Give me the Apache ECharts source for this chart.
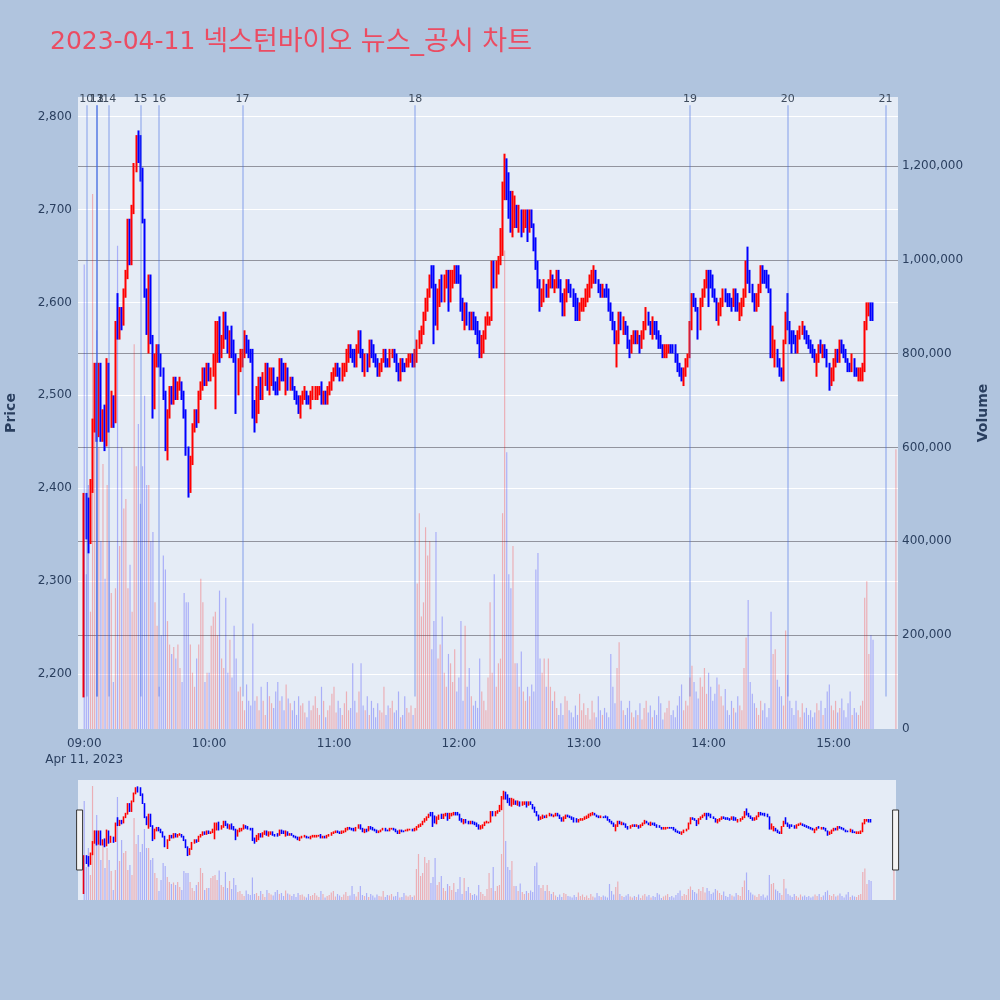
<!DOCTYPE html>
<html><head><meta charset="utf-8">
<script src="https://cdn.jsdelivr.net/npm/echarts@6/dist/echarts.min.js"></script>
<style>html,body{margin:0;padding:0;background:#B0C4DE;}#chart{width:1000px;height:1000px;}</style>
</head><body><div id="chart"></div>
<script>
// Minute bars, one entry per minute starting 09:00 (through 15:19)
const firstBar = '09:00';
const openP = [
2180,2395,2360,2345,2400,2470,2525,2460,2530,2455, 2480,2445,2535,2465,2500,2470,2600,2565,2590,2575,
2610,2630,2685,2645,2700,2745,2780,2770,2740,2690, 2610,2570,2625,2560,2490,2540,2550,2535,2525,2500,
2445,2480,2505,2495,2515,2500,2510,2515,2500,2480, 2440,2400,2430,2465,2480,2475,2500,2510,2525,2515,
2530,2520,2525,2540,2540,2570,2540,2555,2585,2565, 2550,2560,2545,2540,2505,2530,2535,2545,2565,2550,
2545,2545,2490,2475,2495,2515,2500,2515,2530,2510, 2520,2525,2510,2515,2505,2540,2530,2515,2530,2510,
2515,2510,2500,2495,2485,2495,2500,2505,2495,2490, 2500,2500,2495,2505,2510,2495,2500,2495,2505,2510,
2520,2525,2535,2530,2520,2525,2530,2540,2550,2545, 2545,2535,2550,2565,2545,2530,2540,2530,2555,2550,
2540,2535,2525,2530,2535,2545,2540,2535,2545,2550, 2540,2530,2520,2535,2535,2530,2535,2540,2545,2535,
2540,2555,2560,2570,2585,2595,2610,2630,2635,2605, 2580,2605,2620,2605,2625,2635,2600,2625,2630,2640,
2635,2625,2600,2575,2590,2580,2575,2585,2580,2575, 2565,2545,2550,2565,2575,2580,2585,2640,2620,2635,
2645,2670,2715,2755,2735,2715,2690,2690,2705,2690, 2700,2680,2690,2695,2680,2700,2685,2665,2640,2620,
2600,2605,2620,2610,2620,2630,2615,2620,2630,2620, 2605,2590,2605,2620,2615,2610,2600,2595,2585,2590,
2595,2600,2605,2610,2620,2630,2635,2625,2615,2605, 2615,2620,2615,2595,2585,2575,2560,2560,2580,2570,
2580,2570,2555,2550,2560,2565,2560,2565,2555,2565, 2575,2590,2580,2565,2580,2575,2565,2560,2555,2545,
2545,2545,2555,2555,2550,2540,2530,2525,2515,2525, 2535,2540,2575,2605,2600,2595,2575,2600,2610,2620,
2630,2625,2620,2610,2605,2580,2590,2600,2610,2605, 2605,2600,2595,2610,2600,2590,2590,2600,2610,2645,
2630,2615,2605,2595,2600,2615,2635,2630,2630,2625, 2615,2545,2535,2550,2535,2525,2520,2560,2590,2575,
2565,2565,2560,2550,2565,2570,2575,2565,2560,2555, 2550,2545,2530,2540,2555,2545,2550,2545,2535,2515,
2520,2535,2545,2540,2555,2550,2545,2540,2535,2525, 2540,2530,2520,2520,2520,2530,2575,2590,2600,2600
];
const highP = [
2395,2395,2390,2410,2475,2535,2535,2535,2535,2485, 2490,2540,2535,2505,2500,2580,2610,2595,2595,2615,
2635,2690,2690,2705,2750,2780,2785,2780,2745,2690, 2615,2630,2630,2565,2545,2555,2555,2545,2530,2505,
2485,2510,2510,2520,2520,2515,2520,2515,2505,2485, 2445,2435,2470,2485,2485,2505,2515,2530,2530,2535,
2535,2530,2545,2580,2580,2585,2565,2590,2590,2575, 2570,2575,2560,2545,2540,2550,2550,2570,2565,2560,
2550,2550,2495,2510,2520,2520,2525,2535,2535,2530, 2530,2530,2515,2520,2540,2540,2535,2535,2530,2520,
2520,2510,2505,2500,2500,2505,2510,2505,2500,2505, 2510,2510,2510,2510,2515,2505,2505,2510,2515,2525,
2530,2535,2535,2530,2535,2535,2550,2555,2555,2550, 2550,2555,2570,2570,2550,2545,2545,2560,2560,2555,
2545,2540,2535,2540,2550,2550,2540,2550,2550,2550, 2545,2535,2540,2540,2535,2540,2545,2545,2545,2550,
2560,2570,2575,2590,2605,2615,2630,2640,2640,2620, 2615,2625,2630,2630,2635,2635,2635,2635,2640,2640,
2640,2630,2605,2600,2600,2590,2590,2590,2585,2580, 2570,2565,2570,2585,2590,2585,2645,2645,2645,2650,
2680,2730,2760,2755,2740,2720,2720,2715,2705,2705, 2700,2700,2700,2700,2700,2700,2685,2670,2645,2625,
2615,2625,2620,2625,2635,2630,2625,2635,2635,2625, 2610,2615,2625,2625,2620,2615,2610,2605,2600,2605,
2605,2615,2620,2630,2635,2640,2635,2625,2620,2620, 2615,2620,2615,2600,2590,2580,2570,2590,2590,2585,
2580,2575,2560,2565,2570,2570,2570,2565,2570,2580, 2595,2590,2580,2585,2580,2580,2570,2565,2555,2555,
2555,2555,2555,2555,2555,2545,2535,2530,2530,2540, 2545,2580,2610,2610,2605,2595,2605,2615,2625,2635,
2635,2635,2630,2615,2605,2600,2605,2615,2615,2610, 2610,2605,2615,2615,2610,2600,2605,2615,2645,2660,
2635,2620,2610,2610,2620,2640,2640,2635,2635,2630, 2615,2575,2560,2550,2540,2530,2560,2590,2610,2580,
2570,2570,2565,2570,2575,2580,2575,2570,2565,2560, 2555,2550,2545,2555,2560,2555,2555,2550,2535,2530,
2540,2550,2550,2560,2560,2555,2550,2540,2535,2545, 2540,2530,2530,2530,2535,2580,2600,2600,2600,2600
];
const lowP = [
2175,2345,2330,2340,2395,2460,2450,2455,2450,2450, 2440,2445,2460,2465,2465,2470,2560,2560,2570,2575,
2605,2625,2640,2640,2695,2740,2750,2730,2685,2605, 2565,2545,2555,2475,2485,2530,2530,2520,2495,2440,
2430,2475,2490,2490,2495,2495,2505,2495,2475,2435, 2390,2395,2425,2460,2465,2470,2495,2505,2510,2510,
2515,2515,2520,2485,2535,2535,2540,2550,2560,2545, 2540,2540,2535,2480,2500,2525,2530,2540,2545,2540,
2535,2475,2460,2470,2480,2495,2495,2510,2505,2500, 2510,2505,2500,2500,2505,2515,2515,2500,2505,2505,
2505,2495,2490,2480,2475,2490,2495,2490,2490,2485, 2495,2495,2495,2500,2490,2490,2490,2490,2500,2505,
2515,2520,2520,2515,2515,2520,2525,2535,2540,2535, 2530,2530,2545,2540,2525,2520,2525,2530,2540,2535,
2530,2520,2520,2525,2535,2530,2530,2530,2540,2535, 2525,2515,2515,2525,2525,2530,2530,2535,2530,2530,
2535,2550,2555,2565,2580,2590,2605,2615,2555,2575, 2570,2595,2600,2600,2615,2590,2600,2615,2620,2620,
2620,2590,2580,2570,2575,2570,2570,2570,2565,2555, 2540,2540,2545,2560,2575,2575,2580,2615,2615,2630,
2640,2650,2710,2710,2690,2675,2670,2680,2680,2675, 2670,2675,2680,2665,2675,2680,2655,2635,2615,2590,
2595,2600,2605,2605,2615,2615,2610,2615,2615,2600, 2585,2585,2600,2610,2605,2595,2580,2580,2580,2590,
2590,2595,2600,2605,2615,2620,2620,2610,2605,2605, 2605,2605,2590,2580,2570,2555,2530,2555,2570,2565,
2565,2550,2540,2545,2555,2555,2555,2545,2550,2560, 2570,2575,2565,2560,2565,2560,2550,2550,2540,2540,
2540,2545,2545,2545,2535,2525,2520,2515,2510,2520, 2530,2540,2570,2595,2590,2560,2570,2595,2605,2615,
2595,2615,2605,2600,2580,2575,2585,2595,2600,2595, 2595,2590,2595,2590,2590,2580,2585,2595,2605,2620,
2610,2600,2590,2590,2595,2610,2620,2620,2615,2610, 2540,2540,2530,2530,2520,2515,2515,2555,2570,2555,
2545,2555,2545,2545,2560,2565,2560,2555,2550,2545, 2540,2535,2520,2535,2545,2540,2540,2530,2505,2510,
2515,2530,2535,2535,2545,2540,2535,2525,2525,2525, 2520,2520,2515,2515,2515,2525,2570,2585,2580,2580
];
const closeP = [
2395,2360,2345,2400,2470,2525,2460,2530,2455,2480, 2445,2535,2465,2500,2470,2575,2565,2590,2575,2610,
2630,2685,2645,2700,2745,2775,2755,2740,2690,2610, 2575,2625,2560,2490,2540,2550,2535,2525,2500,2445,
2480,2505,2495,2515,2500,2510,2515,2500,2480,2440, 2395,2430,2465,2480,2475,2500,2510,2525,2515,2530,
2520,2525,2540,2575,2570,2540,2560,2585,2565,2550, 2560,2545,2540,2505,2530,2545,2545,2565,2550,2545,
2540,2490,2470,2500,2515,2500,2520,2530,2510,2525, 2525,2510,2505,2505,2535,2520,2520,2530,2510,2515,
2510,2500,2495,2485,2495,2500,2505,2495,2490,2500, 2505,2505,2505,2510,2495,2500,2495,2505,2510,2520,
2525,2530,2525,2520,2530,2535,2545,2550,2545,2540, 2535,2550,2565,2545,2530,2540,2530,2555,2545,2540,
2535,2525,2530,2535,2545,2535,2535,2545,2550,2540, 2530,2520,2535,2530,2530,2540,2540,2545,2535,2545,
2555,2565,2570,2585,2600,2610,2625,2620,2605,2585, 2610,2620,2605,2625,2630,2600,2630,2630,2635,2625,
2625,2600,2590,2595,2580,2575,2585,2575,2570,2560, 2545,2560,2565,2580,2585,2585,2640,2620,2640,2645,
2675,2725,2755,2720,2700,2690,2710,2705,2690,2700, 2675,2695,2695,2675,2695,2685,2665,2640,2620,2600,
2610,2620,2610,2620,2630,2620,2625,2630,2620,2605, 2590,2610,2620,2615,2610,2600,2590,2585,2595,2600,
2605,2610,2615,2625,2630,2635,2625,2615,2610,2615, 2610,2615,2595,2585,2575,2560,2565,2585,2575,2580,
2570,2555,2545,2560,2565,2560,2565,2550,2565,2575, 2590,2580,2570,2580,2570,2565,2555,2555,2545,2550,
2550,2550,2550,2550,2540,2530,2525,2520,2525,2535, 2540,2575,2605,2600,2595,2575,2600,2610,2620,2625,
2605,2620,2610,2605,2590,2595,2600,2610,2605,2600, 2600,2595,2610,2595,2595,2595,2600,2610,2640,2630,
2615,2605,2595,2605,2615,2635,2625,2625,2625,2615, 2550,2570,2555,2535,2525,2520,2555,2585,2575,2560,
2555,2560,2550,2565,2570,2575,2565,2560,2555,2550, 2545,2540,2545,2550,2550,2550,2545,2535,2515,2525,
2535,2545,2540,2555,2550,2545,2540,2530,2530,2540, 2525,2525,2525,2525,2530,2575,2600,2600,2590,2590
];
// volume in thousands of shares
const volumeK = [
990,330,520,250,1140,700,850,600,400,565, 320,520,400,290,100,300,1030,390,600,470,
490,300,350,250,820,560,650,480,560,710, 520,520,400,420,270,220,90,200,370,340,
230,180,160,175,150,180,130,100,290,270, 270,180,120,90,150,180,320,270,100,120,
120,220,240,250,200,295,150,130,280,120, 190,110,220,150,80,90,60,40,95,60,
50,225,60,70,40,90,60,30,100,70, 55,45,80,100,60,70,40,95,65,55,
40,60,30,70,50,55,35,25,60,40, 50,70,45,30,90,60,25,40,50,75,
90,35,60,45,30,55,80,40,45,140, 60,35,80,140,50,40,70,30,60,45,
25,55,40,35,90,30,50,45,60,35, 40,80,25,30,70,45,35,50,30,45,
310,460,240,270,430,370,400,170,230,420, 150,180,240,120,90,160,140,100,170,80,
110,230,60,220,90,130,70,50,60,45, 150,80,60,40,110,270,120,330,90,140,
150,460,1020,590,330,300,390,140,140,90, 165,80,60,90,70,95,80,340,375,150,
120,150,90,150,90,60,80,45,30,55, 30,70,60,40,35,25,50,30,75,40,
55,30,45,20,60,35,25,70,40,30, 45,35,25,160,90,55,130,185,60,40,
30,45,60,35,25,40,30,55,20,45, 60,35,50,25,40,30,70,55,20,35,
45,60,30,40,25,50,70,95,40,60, 50,110,135,100,80,65,110,90,130,75,
120,90,60,75,110,95,70,50,85,40, 30,60,45,35,70,50,40,130,195,275,
100,75,55,45,30,60,40,55,25,45, 250,160,170,105,90,70,50,210,115,60,
45,30,60,40,25,55,35,45,30,40, 25,35,55,40,60,30,45,80,95,50,
40,60,35,45,65,40,25,55,80,30, 45,35,30,50,60,280,315,160,200,190
];
// volume bars drawn in the "down" colour although the candle closed up
const volumeDownAt = ['09:00'];
// closing auction print
const closeTime = '15:30';
const closeAuction = {price: 2605, volumeK: 596};
// news / disclosure markers (13 drawn first so 12 sits on top, as in the reference)
const newsLabels = ['10','13','11','12','14','15','16','17','18','19','20','21'];
const newsTimes  = ['09:01','09:06','09:06','09:06','09:12','09:27','09:36','10:16','11:39','13:51','14:38','15:25'];
const newsPriceSpan = [2176, 2812];
const axisStart = '08:57', axisEnd = '15:31';
const priceRange = [2141, 2821];
const volumeMax = 1347000;
const sliderVolumeMax = 1200000;
const titleDate = '2023-04-11 ';
const titleText = '넥스턴바이오 뉴스_공시 차트';

function toMin(s){const p=s.split(':');return (+p[0])*60+(+p[1]);}
function toStr(m){const h=Math.floor(m/60),mm=m%60;return (h<10?'0':'')+h+':'+(mm<10?'0':'')+mm;}
const cats=[];
for(let t=toMin(axisStart);t<=toMin(axisEnd);t++) cats.push(toStr(t));
const base=cats.indexOf(firstBar);
const candle=cats.map(()=>'-');
const vols=cats.map(()=>'-');
const UP='#ff0000', DN='#0000ff';
const UPV='rgba(255,0,0,0.26)', DNV='rgba(0,0,255,0.26)';
for(let i=0;i<openP.length;i++){
  candle[base+i]=[openP[i],closeP[i],lowP[i],highP[i]];
  const down = closeP[i]<openP[i] || volumeDownAt.indexOf(cats[base+i])>=0;
  vols[base+i]={value:volumeK[i]*1000,itemStyle:{color:down?DNV:UPV}};
}
const ci=cats.indexOf(closeTime);
candle[ci]=[closeAuction.price,closeAuction.price,closeAuction.price,closeAuction.price];
vols[ci]={value:closeAuction.volumeK*1000,itemStyle:{color:UPV}};

const fmt=v=>String(v).replace(/\B(?=(\d{3})+(?!\d))/g,',');
const FONT="'DejaVu Sans','Noto Sans CJK KR',sans-serif";
const TXT='#2a3f5f';

const chart=echarts.init(document.getElementById('chart'),null,{renderer:'canvas'});
chart.setOption({
  animation:false,
  backgroundColor:'#B0C4DE',
  textStyle:{fontFamily:FONT},
  title:{text:'{d|'+titleDate+'}{k|'+titleText+'}',left:45,top:24,
    textStyle:{fontWeight:'normal',fontSize:25,color:'#EB4C62',fontFamily:FONT,rich:{
      d:{fontSize:25,fontWeight:'normal',color:'#EB4C62',fontFamily:FONT},
      k:{fontSize:27,fontWeight:'normal',color:'#EB4C62',fontFamily:FONT}
    }}},
  grid:[
    {left:78,right:102,top:97,bottom:271,show:true,backgroundColor:'#E5ECF6',borderWidth:0,containLabel:false,outerBoundsMode:'none'},
    {left:78,right:104,top:780,height:120,show:true,backgroundColor:'#E5ECF6',borderWidth:0,containLabel:false,outerBoundsMode:'none'}
  ],
  xAxis:[
    {type:'category',gridIndex:0,data:cats,boundaryGap:false,
     axisLine:{show:false},axisTick:{show:false},splitLine:{show:false},
     axisLabel:{interval:(idx,val)=>val.endsWith(':00'),
       formatter:v=>v==='09:00'?'09:00\nApr 11, 2023':v,
       color:TXT,fontSize:12,margin:7,lineHeight:16,fontFamily:FONT}},
    {type:'category',gridIndex:1,data:cats,boundaryGap:false,show:false}
  ],
  yAxis:[
    {type:'value',gridIndex:0,position:'left',min:priceRange[0],max:priceRange[1],splitNumber:7,
     axisLine:{show:false},axisTick:{show:false},
     axisLabel:{formatter:fmt,color:TXT,fontSize:12,margin:6,showMinLabel:false,showMaxLabel:false,fontFamily:FONT},
     splitLine:{show:true,showMinLine:false,showMaxLine:false,lineStyle:{color:'#ffffff',width:1}},
     name:'Price',nameLocation:'middle',nameGap:60,
     nameTextStyle:{fontSize:14,fontWeight:'bold',color:TXT,fontFamily:FONT}},
    {type:'value',gridIndex:0,position:'right',min:0,max:volumeMax,splitNumber:7,
     axisLine:{show:false},axisTick:{show:false},
     axisLabel:{formatter:fmt,color:TXT,fontSize:12,margin:4,showMaxLabel:false,fontFamily:FONT},
     splitLine:{show:true,showMinLine:false,showMaxLine:false,lineStyle:{color:'rgba(90,90,100,0.6)',width:1}},
     name:'Volume',nameLocation:'middle',nameGap:78,
     nameTextStyle:{fontSize:14,fontWeight:'bold',color:TXT,fontFamily:FONT}},
    {type:'value',gridIndex:1,min:priceRange[0],max:priceRange[1],show:false,splitLine:{show:false}},
    {type:'value',gridIndex:1,min:0,max:sliderVolumeMax,show:false,splitLine:{show:false}}
  ],
  dataZoom:[{
    type:'slider',xAxisIndex:[0,1],filterMode:'none',start:0,end:100,
    left:78,right:104,top:780,height:120,
    showDetail:false,showDataShadow:false,brushSelect:false,
    backgroundColor:'rgba(0,0,0,0)',fillerColor:'rgba(0,0,0,0)',borderColor:'rgba(0,0,0,0)',
    dataBackground:{lineStyle:{opacity:0},areaStyle:{opacity:0}},
    selectedDataBackground:{lineStyle:{opacity:0},areaStyle:{opacity:0}},
    handleIcon:'path://M0,0 H6 V60 H0 Z',handleSize:'50%',
    handleStyle:{color:'#f4f4f4',borderColor:'#333',borderWidth:1},
    moveHandleSize:0
  }],
  series:[
    {type:'line',xAxisIndex:0,yAxisIndex:0,data:[],z:1,
     markLine:{silent:true,symbol:['none','none'],animation:false,
       lineStyle:{color:'rgba(65,105,225,0.3)',width:2,type:'solid'},
       label:{show:true,position:'start',distance:1,formatter:'{b}',color:'#3d4a5c',fontSize:11,fontFamily:FONT},
       data:newsLabels.map((n,i)=>[{name:n,coord:[newsTimes[i],newsPriceSpan[1]]},{coord:[newsTimes[i],newsPriceSpan[0]]}])}},
    {type:'candlestick',xAxisIndex:0,yAxisIndex:0,data:candle,barWidth:1,z:2,
     itemStyle:{color:UP,color0:DN,borderColor:UP,borderColor0:DN,borderWidth:2}},
    {type:'bar',xAxisIndex:0,yAxisIndex:1,data:vols,barWidth:1.2,z:3},
    {type:'candlestick',xAxisIndex:1,yAxisIndex:2,data:candle,barWidth:1,z:2,
     itemStyle:{color:UP,color0:DN,borderColor:UP,borderColor0:DN,borderWidth:1.6}},
    {type:'bar',xAxisIndex:1,yAxisIndex:3,data:vols,barWidth:1.2,z:3}
  ]
});
</script></body></html>
